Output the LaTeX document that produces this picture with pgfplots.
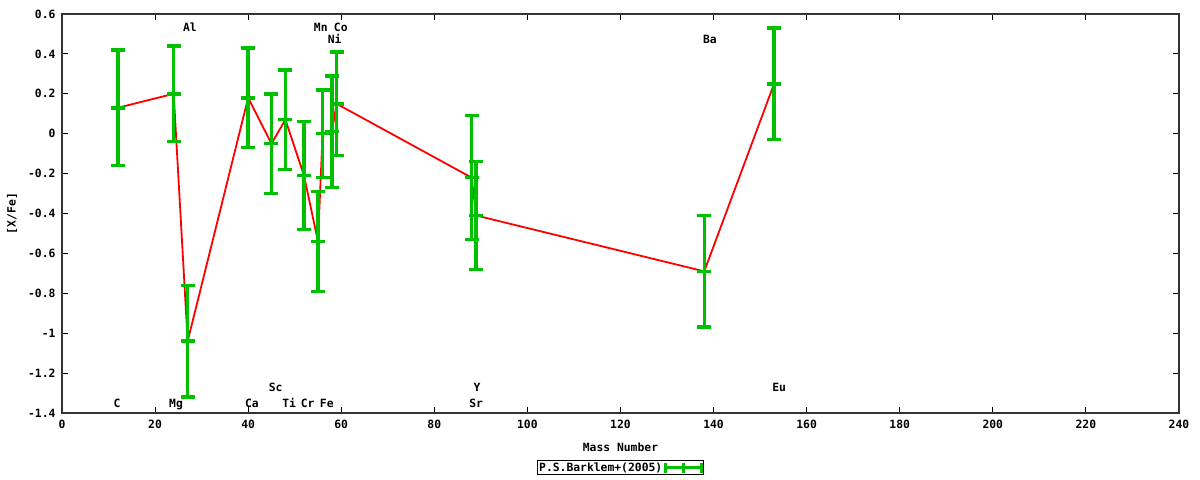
\documentclass[border=0pt]{standalone}
\usepackage{fontspec}
\setmainfont{DejaVu Sans Mono}
\usepackage{pgfplots}
\usepackage{pgfplotstable}
\pgfplotsset{compat=1.18}
\definecolor{gpgreen}{RGB}{0,192,0}
\definecolor{gpred}{RGB}{255,0,0}
\pgfplotstableread{
x y e
12 0.13 0.29
24 0.20 0.24
27 -1.04 0.28
40 0.18 0.25
45 -0.05 0.25
48 0.07 0.25
52 -0.21 0.27
55 -0.54 0.25
56 0.00 0.22
58 0.01 0.28
59 0.15 0.26
88 -0.22 0.31
89 -0.41 0.27
138 -0.69 0.28
153 0.25 0.28
}\barklem
\newcommand{\gpfont}{\fontsize{11.4}{13}\selectfont\bfseries}
\begin{document}
\begin{tikzpicture}
\path[use as bounding box] (0,0) rectangle (1200bp,480bp);
\begin{axis}[
  at={(62bp,67bp)}, anchor=south west,
  scale only axis, width=1117bp, height=399bp,
  xmin=0, xmax=240, ymin=-1.4, ymax=0.6,
  xtick={0,20,40,60,80,100,120,140,160,180,200,220,240},
  ytick={-1.4,-1.2,-1,-0.8,-0.6,-0.4,-0.2,0,0.2,0.4,0.6},
  font=\gpfont,
  /pgf/number format/assume math mode=true,
  major tick length=6bp,
  tick style={black, line width=0.8bp},
  axis line style={black!80, line width=1.2bp},
  xticklabel style={yshift=-4bp},
  yticklabel style={xshift=-3bp},
  xlabel={Mass Number},
  ylabel={[X/Fe]},
  xlabel style={at={(axis description cs:0.5,-0.085)}, anchor=center},
  ylabel style={at={(axis description cs:-0.0448,0.5)}, anchor=center},
  legend style={at={(axis description cs:0.5,-0.1366)}, anchor=center,
    draw=black, line width=0.8bp, inner sep=0.5bp, font=\gpfont,
    nodes={inner sep=1.5bp}},
  legend plot pos=right,
  legend image code/.code={
    \draw[line width=3.5bp] (0bp,0bp) -- (36bp,0bp);
    \draw[line width=3.5bp] (0bp,-5bp) -- (0bp,5bp);
    \draw[line width=3.5bp] (36bp,-5bp) -- (36bp,5bp);
    \draw[line width=3.5bp] (18bp,-5bp) -- (18bp,5bp);
  },
  every node/.append style={},
]
\addplot[gpred, line width=1.8bp, no marks, forget plot] table[x=x, y=y] {\barklem};
\addplot[gpgreen, only marks, mark=-, mark size=7bp,
  mark options={line width=3.5bp},
  error bars/.cd, y dir=both, y explicit,
  error bar style={line width=3.5bp},
  error mark=|,
  error mark options={line width=3.5bp, mark size=7bp}]
  table[x=x, y=y, y error=e] {\barklem};
\addlegendentry{P.S.Barklem+(2005)}
\node[anchor=base] at (axis cs:11.8,-1.374) {C};
\node[anchor=base] at (axis cs:24.5,-1.374) {Mg};
\node[anchor=base] at (axis cs:27.5,0.512) {Al};
\node[anchor=base] at (axis cs:40.8,-1.374) {Ca};
\node[anchor=base] at (axis cs:45.9,-1.294) {Sc};
\node[anchor=base] at (axis cs:48.8,-1.374) {Ti};
\node[anchor=base] at (axis cs:52.8,-1.374) {Cr};
\node[anchor=base] at (axis cs:56.9,-1.374) {Fe};
\node[anchor=base] at (axis cs:55.6,0.512) {Mn};
\node[anchor=base] at (axis cs:59.9,0.512) {Co};
\node[anchor=base] at (axis cs:58.6,0.452) {Ni};
\node[anchor=base] at (axis cs:89.2,-1.294) {Y};
\node[anchor=base] at (axis cs:89.0,-1.374) {Sr};
\node[anchor=base] at (axis cs:139.2,0.452) {Ba};
\node[anchor=base] at (axis cs:154.1,-1.294) {Eu};
\end{axis}
\end{tikzpicture}
\end{document}
